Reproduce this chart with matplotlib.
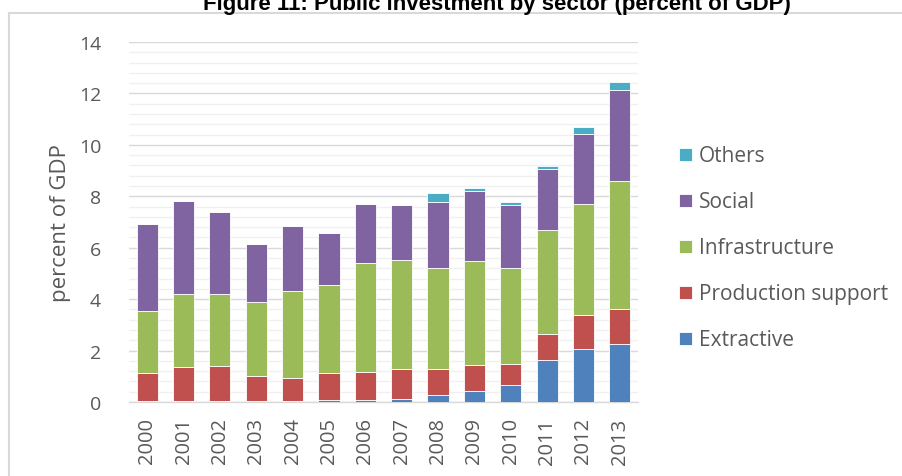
import matplotlib
matplotlib.use("Agg")
import matplotlib.pyplot as plt
import numpy as np
from matplotlib.lines import Line2D
from matplotlib.ticker import MultipleLocator

years = ["2000", "2001", "2002", "2003", "2004", "2005", "2006",
         "2007", "2008", "2009", "2010", "2011", "2012", "2013"]
extractive = [0.02, 0.02, 0.02, 0.02, 0.02, 0.06, 0.06, 0.13, 0.29, 0.44, 0.68, 1.64, 2.05, 2.26]
production = [1.10, 1.34, 1.37, 1.01, 0.92, 1.06, 1.11, 1.16, 1.00, 0.99, 0.80, 1.00, 1.34, 1.36]
infrastructure = [2.41, 2.83, 2.80, 2.84, 3.38, 3.43, 4.23, 4.23, 3.92, 4.04, 3.73, 4.04, 4.31, 4.96]
social = [3.41, 3.64, 3.21, 2.29, 2.52, 2.03, 2.30, 2.16, 2.58, 2.75, 2.44, 2.37, 2.72, 3.54]
others = [0.0, 0.0, 0.0, 0.0, 0.0, 0.0, 0.0, 0.0, 0.35, 0.10, 0.12, 0.11, 0.26, 0.31]

series = [("Extractive", extractive, "#4F81BD"),
          ("Production support", production, "#C0504D"),
          ("Infrastructure", infrastructure, "#9BBB59"),
          ("Social", social, "#8064A2"),
          ("Others", others, "#4BACC6")]

plt.rcParams['font.family'] = ['Open Sans', 'DejaVu Sans']
txt = "#595959"

fig = plt.figure(figsize=(9.02, 4.77), dpi=100)
W, H = 902, 477
ax = fig.add_axes([129 / W, 1 - 403 / H, (638 - 129) / W, (403 - 43) / H])

x = np.arange(len(years))
bottom = np.zeros(len(years))
handles = []
for name, vals, col in series:
    v = np.array(vals)
    b = ax.bar(x, v, width=0.58, bottom=bottom, color=col, edgecolor="white",
               linewidth=0.6, label=name, zorder=3)
    handles.append(b)
    bottom += v

ax.set_xlim(-0.5, len(years) - 0.5)
ax.set_ylim(0, 14)
ax.yaxis.set_major_locator(MultipleLocator(2))
ax.yaxis.set_minor_locator(MultipleLocator(0.4))
ax.grid(axis="y", which="major", color="#d9d9d9", linewidth=1.0, zorder=0)
ax.grid(axis="y", which="minor", color="#f0f0f0", linewidth=1.0, zorder=0)
ax.set_axisbelow(True)
for s in ["top", "right", "left"]:
    ax.spines[s].set_visible(False)
ax.spines["bottom"].set_color("#d9d9d9")
ax.spines["bottom"].set_linewidth(1.0)
ax.tick_params(axis="both", which="both", length=0)
ax.set_xticks(x)
ax.set_xticklabels(years, rotation=90, fontsize=14.5, color=txt)
ax.tick_params(axis="x", pad=11)
ax.tick_params(axis="y", labelsize=14, labelcolor=txt, pad=20)
ax.set_ylabel("percent of GDP", fontsize=16, color=txt, labelpad=6)

leg = fig.legend(handles=handles[::-1], labels=[s[0] for s in series][::-1],
                 loc="center left", bbox_to_anchor=(679 / W, 1 - 249 / H),
                 frameon=False, fontsize=15, labelcolor=txt,
                 handlelength=0.6, handleheight=0.6, handletextpad=0.35,
                 labelspacing=1.2, borderaxespad=0, borderpad=0)

# outer frame
fig.add_artist(Line2D([9 / W, 9 / W], [0, 1 - 14 / H], transform=fig.transFigure,
                      color="#d9d9d9", linewidth=1.5))
fig.add_artist(Line2D([9 / W, 1], [1 - 14 / H, 1 - 14 / H], transform=fig.transFigure,
                      color="#d9d9d9", linewidth=1.5))

fig.text(497 / W, 1 - 10 / H, "Figure 11: Public investment by sector (percent of GDP)",
         ha="center", va="baseline", fontsize=16, fontweight="bold",
         family=["Liberation Sans", "DejaVu Sans"], color="black")

fig.savefig("out.png", dpi=100)
